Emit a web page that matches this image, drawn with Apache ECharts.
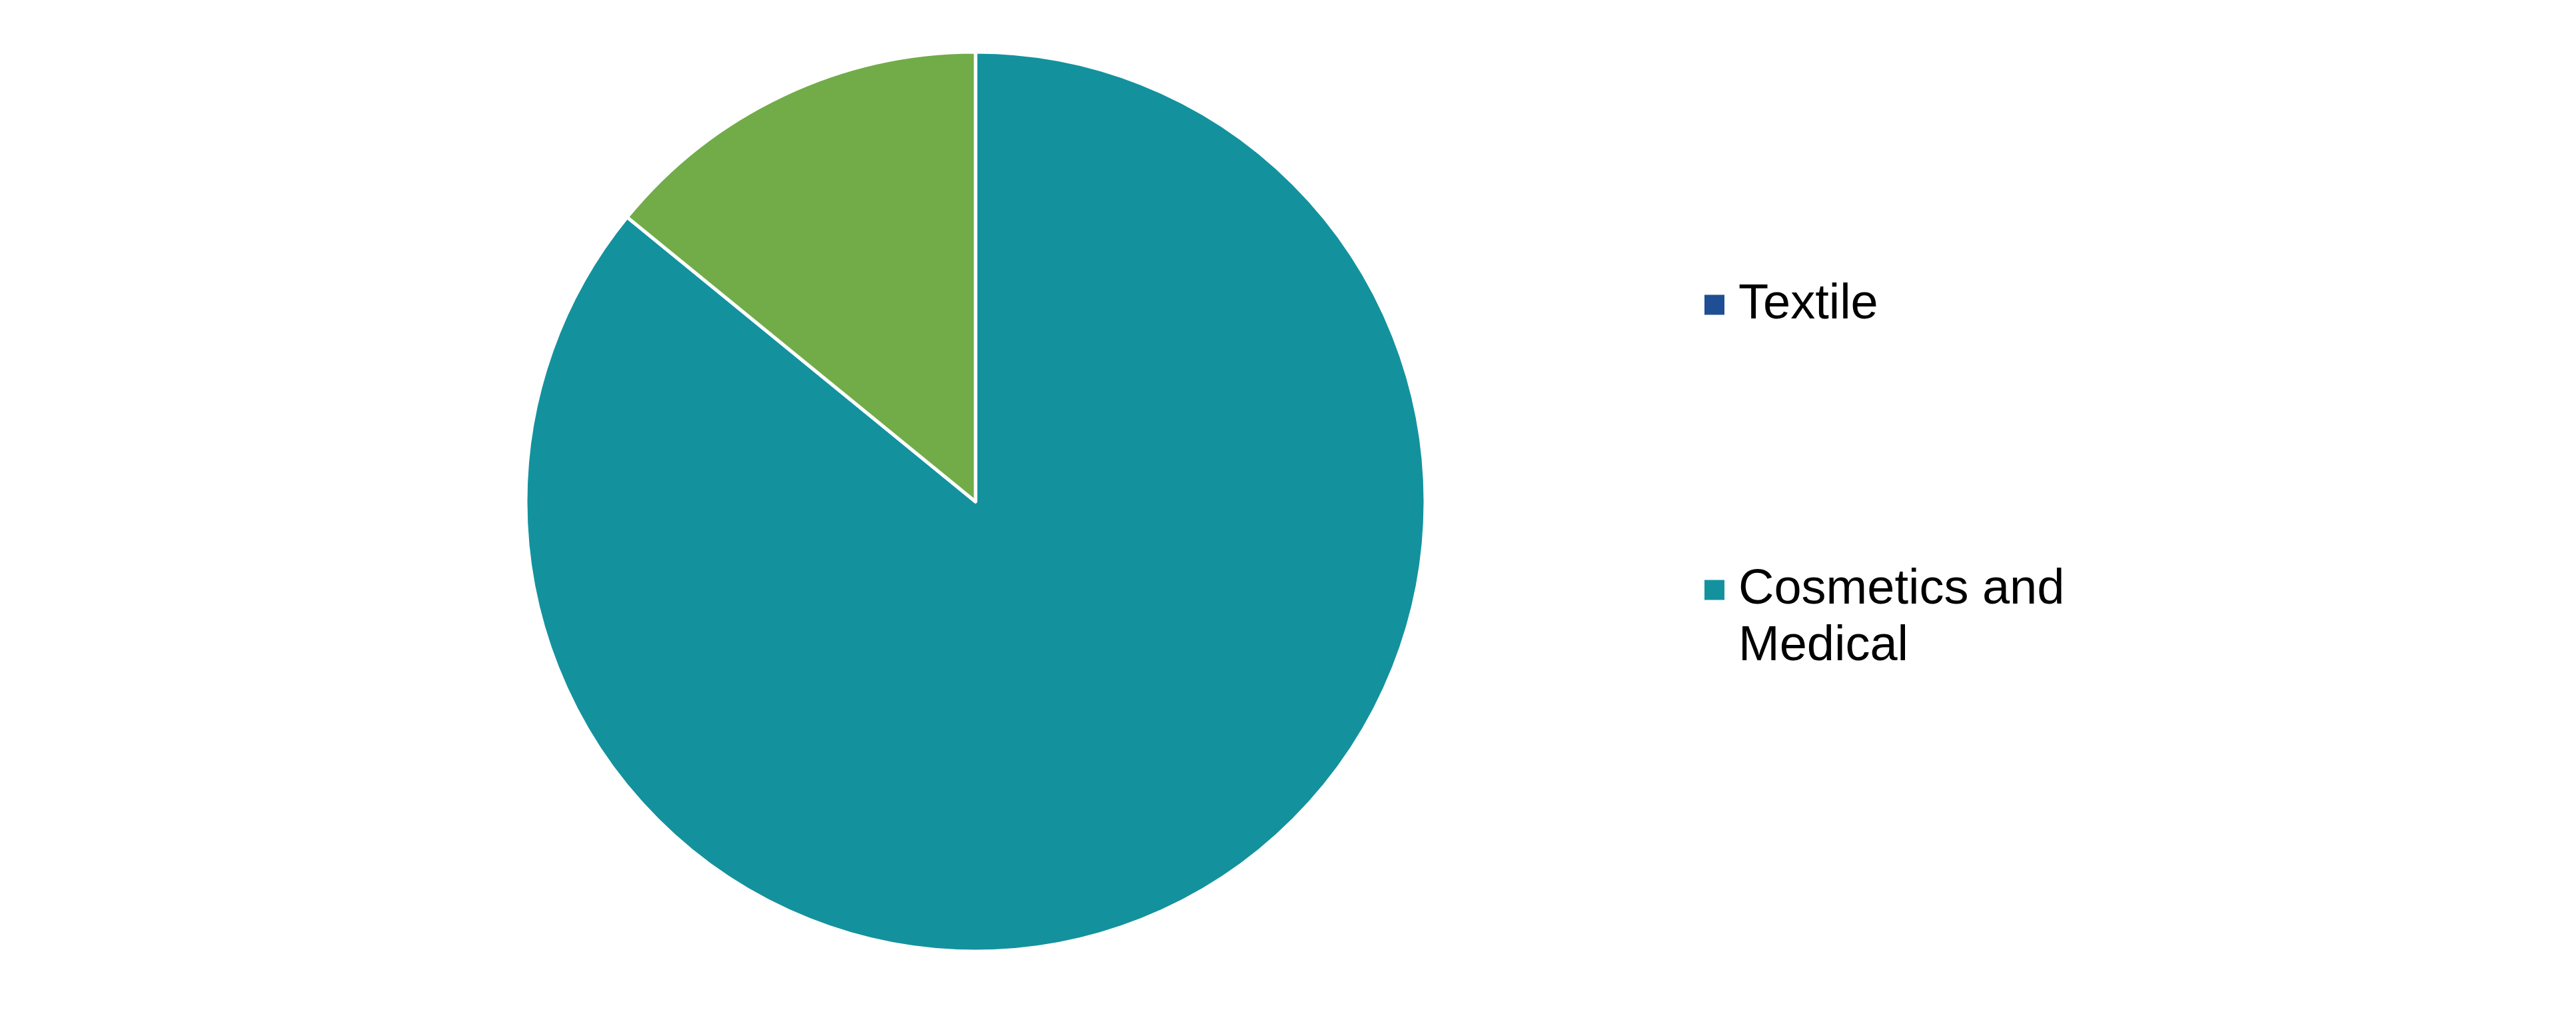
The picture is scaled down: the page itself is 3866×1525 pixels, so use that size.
<!DOCTYPE html>
<html lang="en">

<head>
    <meta charset="UTF-8">
    <title>pie</title>
    <style>
        html, body { margin: 0; padding: 0; background: #fff; }
        .box { width: 3866px; height: 1525px; }
    </style>
</head>

<body>
    <div class="box"></div>

    <script src="https://cdn.jsdelivr.net/npm/echarts@6/dist/echarts.min.js"></script>
    <script>
        let categories = ["Textile", "Cosmetics and Medical", "Other"]
        let values = [0, 85.9, 14.1]
        let colors = ["#1f4e94", "#13929e", "#71ac48"]

        let myChart = echarts.init(document.querySelector(".box"));

        let legendText = {
            fontFamily: "Liberation Sans, Arial, sans-serif",
            fontSize: 74,
            lineHeight: 85,
            color: "#000",
            rich: {
                g: { width: 15, fontSize: 74, lineHeight: 85 },
                t: { fontFamily: "Liberation Sans, Arial, sans-serif", fontSize: 74, lineHeight: 85, color: "#000" }
            }
        }

        option = {
            animation: false,
            legend: [{
                data: [categories[0]],
                left: 2551,
                top: 410,
                itemWidth: 32,
                itemHeight: 32,
                icon: "rect",
                formatter: function (name) {
                    return "{g| }{t|" + name + "}"
                },
                textStyle: legendText
            }, {
                data: [categories[1]],
                left: 2551,
                top: 753,
                itemWidth: 32,
                itemHeight: 32,
                icon: "rect",
                // blank first line keeps the icon level with "Cosmetics and"
                formatter: function (name) {
                    return "{t| }\n{g| }{t|Cosmetics and}\n{g| }{t|Medical}"
                },
                textStyle: legendText
            }],
            series: [{
                type: "pie",
                center: [1464, 753],
                radius: 675,
                startAngle: 90,
                clockwise: true,
                label: { show: false },
                labelLine: { show: false },
                emphasis: { disabled: true },
                itemStyle: {
                    borderColor: "#fff",
                    borderWidth: 5
                },
                data: categories.map(function (name, i) {
                    return { name: name, value: values[i], itemStyle: { color: colors[i] } }
                })
            }]
        }
        myChart.setOption(option);
    </script>
</body>

</html>
